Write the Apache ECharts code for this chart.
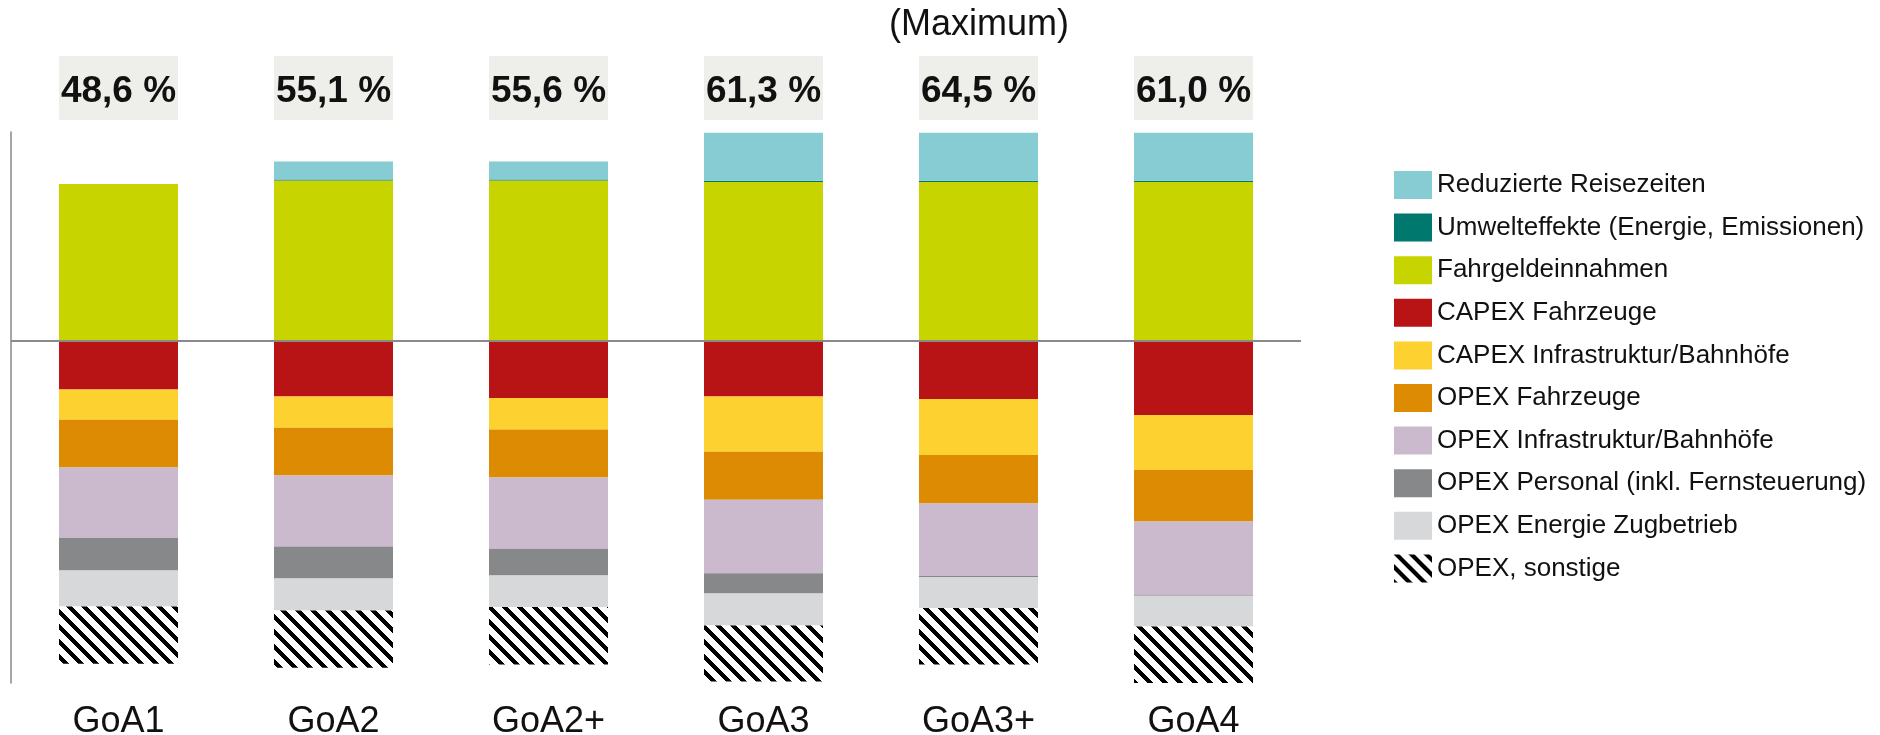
<!DOCTYPE html>
<html>
<head>
<meta charset="utf-8">
<script src="https://cdn.jsdelivr.net/npm/echarts@6/dist/echarts.min.js"></script>
<style>
html,body{margin:0;padding:0;background:#fff;}
#chart{width:1880px;height:735px;}
</style>
</head>
<body>
<div id="chart"></div>
<script>
// ---- data ----
const categories = ['GoA1', 'GoA2', 'GoA2+', 'GoA3', 'GoA3+', 'GoA4'];
const totalLabels = ['48,6 %', '55,1 %', '55,6 %', '61,3 %', '64,5 %', '61,0 %'];
const noteText = '(Maximum)';

const reisezeiten = [0, 9.1, 9.1, 24, 24, 24];
const umwelteffekte = [0, 0.4, 0.4, 0.6, 0.6, 0.6];
const fahrgeld = [78.5, 80.3, 80.3, 79.5, 79.5, 79.5];
const capexFahrzeuge = [-24.2, -27.7, -28.5, -27.7, -29, -37];
const capexInfra = [-15.2, -15.7, -15.7, -27.7, -28, -27.5];
const opexFahrzeuge = [-23.8, -23.8, -24, -24, -24.2, -25.7];
const opexInfra = [-35.2, -35.5, -35.7, -36.7, -36.3, -36.7];
const opexPersonal = [-16.3, -16, -13.3, -10.2, -0.5, -0.5];
const opexEnergie = [-18, -16, -15.8, -16, -15.5, -15.3];
const opexSonstige = [-28.7, -28.7, -28.8, -28, -28.3, -28.3];

const seriesNames = [
  'Reduzierte Reisezeiten',
  'Umwelteffekte (Energie, Emissionen)',
  'Fahrgeldeinnahmen',
  'CAPEX Fahrzeuge',
  'CAPEX Infrastruktur/Bahnhöfe',
  'OPEX Fahrzeuge',
  'OPEX Infrastruktur/Bahnhöfe',
  'OPEX Personal (inkl. Fernsteuerung)',
  'OPEX Energie Zugbetrieb',
  'OPEX, sonstige'
];

// ---- hatch pattern ----
function makeHatch() {
  const s = 15;
  const c = document.createElement('canvas');
  c.width = s; c.height = s;
  const ctx = c.getContext('2d');
  const img = ctx.createImageData(s, s);
  for (let y = 0; y < s; y++) {
    for (let x = 0; x < s; x++) {
      const k = ((x - y) % s + s) % s;
      const black = k < 6;
      const i = (y * s + x) * 4;
      const v = black ? 0 : 255;
      img.data[i] = v; img.data[i + 1] = v; img.data[i + 2] = v; img.data[i + 3] = 255;
    }
  }
  ctx.putImageData(img, 0, 0);
  return { image: c, repeat: 'repeat' };
}

const chart = echarts.init(document.getElementById('chart'), null, { renderer: 'canvas' });
const FONT = '"Liberation Sans", Arial, sans-serif';

function barSeries(name, data, color, extra) {
  return Object.assign({
    name: name,
    type: 'bar',
    stack: 'total',
    data: data,
    barWidth: 119,
    itemStyle: { color: color },
    emphasis: { disabled: true },
    silent: true
  }, extra || {});
}

const option = {
  animation: false,
  backgroundColor: '#ffffff',
  textStyle: { fontFamily: FONT },
  title: {
    text: noteText,
    left: 884,
    top: 2,
    textStyle: { fontSize: 36, fontWeight: 'normal', color: '#111', fontFamily: FONT }
  },
  legend: {
    orient: 'vertical',
    left: 1389,
    top: 166,
    itemWidth: 38,
    itemHeight: 28,
    itemGap: 14.6,
    icon: 'rect',
    selectedMode: false,
    data: seriesNames,
    textStyle: { fontSize: 26, color: '#111', fontFamily: FONT }
  },
  grid: { left: 11, width: 1290, top: 132, height: 551, containLabel: false, outerBoundsMode: 'none' },
  xAxis: [
    {
      type: 'category',
      data: categories,
      position: 'bottom',
      axisLine: { show: false, onZero: false },
      axisTick: { show: false },
      axisLabel: { fontSize: 36, color: '#111', margin: 21, fontFamily: FONT }
    },
    {
      type: 'category',
      data: totalLabels,
      position: 'top',
      axisLine: { show: false, onZero: false },
      axisTick: { show: false },
      axisLabel: {
        fontSize: 37, fontWeight: 'bold', color: '#111', fontFamily: FONT,
        margin: 12, backgroundColor: '#EEEEEA',
        width: 119, height: 56, lineHeight: 56, padding: [8, 0, 0, 0], align: 'center'
      }
    }
  ],
  yAxis: {
    type: 'value',
    min: -171,
    max: 104.5,
    axisLine: { show: true, lineStyle: { color: '#888', width: 1.5 } },
    axisTick: { show: false },
    axisLabel: { show: false },
    splitLine: { show: false }
  },
  series: [
    barSeries(seriesNames[2], fahrgeld, '#C8D400'),
    barSeries(seriesNames[1], umwelteffekte, '#00786E'),
    barSeries(seriesNames[0], reisezeiten, '#86CCD2'),
    barSeries(seriesNames[3], capexFahrzeuge, '#B81416', {
      markLine: {
        silent: true,
        symbol: 'none',
        z: 10,
        label: { show: false },
        lineStyle: { color: '#8a8a8a', width: 2, type: 'solid' },
        data: [{ yAxis: 0 }]
      }
    }),
    barSeries(seriesNames[4], capexInfra, '#FDD12F'),
    barSeries(seriesNames[5], opexFahrzeuge, '#DC8B02'),
    barSeries(seriesNames[6], opexInfra, '#CBBACD'),
    barSeries(seriesNames[7], opexPersonal, '#87888A'),
    barSeries(seriesNames[8], opexEnergie, '#D7D8D9'),
    barSeries(seriesNames[9], opexSonstige, makeHatch())
  ]
};

chart.setOption(option);
</script>
</body>
</html>
